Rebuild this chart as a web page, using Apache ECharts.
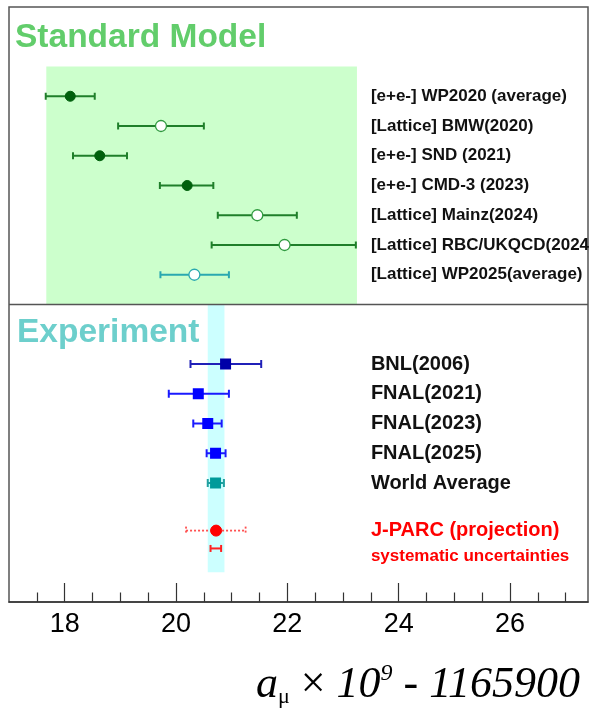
<!DOCTYPE html>
<html>
<head>
<meta charset="utf-8">
<script src="https://cdn.jsdelivr.net/npm/echarts@6/dist/echarts.min.js"></script>
<style>
html, body { margin: 0; padding: 0; background: #fff; }
#main { width: 593px; height: 709px; }
</style>
</head>
<body>
<div id="main"></div>
<script>
// Standard Model predictions (a_mu x 1e9 - 1165900)
const smLabels = ['[e+e-] WP2020 (average)', '[Lattice] BMW(2020)', '[e+e-] SND (2021)',
  '[e+e-] CMD-3 (2023)', '[Lattice] Mainz(2024)', '[Lattice] RBC/UKQCD(2024', '[Lattice] WP2025(average)'];
const smRows = [3, 4, 5, 6, 7, 8, 9];
const smCentral = [18.10, 19.73, 18.63, 20.20, 21.46, 21.95, 20.33];
const smLow = [17.66, 18.96, 18.15, 19.71, 20.75, 20.64, 19.72];
const smHigh = [18.54, 20.50, 19.12, 20.67, 22.17, 23.23, 20.95];

// measurements
const expLabels = ['BNL(2006)', 'FNAL(2021)', 'FNAL(2023)', 'FNAL(2025)', 'World Average'];
const expRows = [12, 13, 14, 15, 16];
const expCentral = [20.89, 20.40, 20.57, 20.71, 20.71];
const expLow = [20.26, 19.87, 20.31, 20.55, 20.57];
const expHigh = [21.53, 20.95, 20.82, 20.89, 20.86];

// J-PARC projection
const jparcLabels = ['J-PARC (projection)', 'systematic uncertainties'];
const jparcLabelRows = [17.6, 18.45];
const jparcRows = [17.6, 18.2];
const jparcCentral = [20.72, 20.72];
const jparcLow = [20.18, 20.62];
const jparcHigh = [21.25, 20.81];

// shaded bands: [x from, x to, row from, row to]
const smBand = [17.67, 23.25, 2, 10];
const expBand = [20.57, 20.87, 10, 19];
const dividerRow = 10;

const xMajorTicks = [18, 20, 22, 24, 26];
const xMinorTicks = [17.5, 18.5, 19, 19.5, 20.5, 21, 21.5, 22.5, 23, 23.5, 24.5, 25, 25.5, 26.5, 27];

const labelX = 23.5;
const FONT = '"Liberation Sans", Arial, Helvetica, sans-serif';
const SERIF = '"Liberation Serif", "Times New Roman", serif';

// marker style per SM row
const smMarker = ['dot', 'ring', 'dot', 'dot', 'ring', 'ring', 'teal'];
const smStyles = {
  dot: { bar: '#1f7f2a', width: 2, cap: 3.5, marker: 'circle', r: 5, fill: '#00600c', stroke: '#00600c' },
  ring: { bar: '#1f7f2a', width: 2, cap: 3.5, marker: 'circle', r: 5.5, fill: '#fff', stroke: '#2f9a3f', lw: 1.3 },
  teal: { bar: '#2aa8b0', width: 2, cap: 3.5, marker: 'circle', r: 5.5, fill: '#fff', stroke: '#2aa8b0', lw: 1.3 }
};
const expStyles = [
  { bar: '#2020b8', width: 2, cap: 4, marker: 'rect', s: 11, fill: '#0000a8' },
  { bar: '#1a1aff', width: 2, cap: 4, marker: 'rect', s: 11, fill: '#0000ff' },
  { bar: '#1a1aff', width: 2, cap: 4, marker: 'rect', s: 11, fill: '#0000ff' },
  { bar: '#1a1aff', width: 2, cap: 4, marker: 'rect', s: 11, fill: '#0000ff' },
  { bar: '#20a0a0', width: 2, cap: 4, marker: 'rect', s: 11, fill: '#009a9a' }
];
const jparcStyles = [
  { bar: '#ff5050', width: 1.8, cap: 4, dash: [2, 2], marker: 'circle', r: 5.5, fill: '#ff0000', stroke: '#ff0000' },
  { bar: '#ff2020', width: 2, cap: 3.5 }
];

function errorBar(c, lo, hi, row, st) {
  return {
    type: 'custom',
    z: 5,
    data: [[c, lo, hi, row]],
    renderItem: function (params, api) {
      const r = api.value(3);
      const a = api.coord([api.value(1), r]);
      const b = api.coord([api.value(2), r]);
      const y = a[1];
      const ls = { stroke: st.bar, lineWidth: st.width, lineDash: st.dash || null };
      const kids = [
        { type: 'line', shape: { x1: a[0], y1: y, x2: b[0], y2: y }, style: ls },
        { type: 'line', shape: { x1: a[0], y1: y - st.cap, x2: a[0], y2: y + st.cap }, style: ls },
        { type: 'line', shape: { x1: b[0], y1: y - st.cap, x2: b[0], y2: y + st.cap }, style: ls }
      ];
      const p = api.coord([api.value(0), r]);
      if (st.marker === 'circle') {
        kids.push({ type: 'circle', shape: { cx: p[0], cy: p[1], r: st.r },
          style: { fill: st.fill, stroke: st.stroke, lineWidth: st.lw || 1 } });
      } else if (st.marker === 'rect') {
        kids.push({ type: 'rect', shape: { x: p[0] - st.s / 2, y: p[1] - st.s / 2, width: st.s, height: st.s },
          style: { fill: st.fill } });
      }
      return { type: 'group', children: kids };
    }
  };
}

function labels(names, rows, font, color) {
  return {
    type: 'custom',
    z: 6,
    data: rows.map(r => [labelX, r]),
    renderItem: function (params, api) {
      const p = api.coord([api.value(0), api.value(1)]);
      return { type: 'text', x: p[0], y: p[1],
        style: { text: names[params.dataIndex], font: font, fill: color, align: 'left', verticalAlign: 'middle' } };
    }
  };
}

function band(b, color) {
  return {
    type: 'custom',
    z: 1,
    data: [b],
    renderItem: function (params, api) {
      const p0 = api.coord([api.value(0), api.value(2)]);
      const p1 = api.coord([api.value(1), api.value(3)]);
      return { type: 'rect', shape: { x: p0[0], y: p0[1], width: p1[0] - p0[0], height: p1[1] - p0[1] },
        style: { fill: color } };
    }
  };
}

const series = [];
series.push(band(smBand, '#ccffcc'));
series.push(band(expBand, '#ccffff'));
series.push({
  type: 'custom',
  z: 2,
  data: [[dividerRow]],
  renderItem: function (params, api) {
    const cs = params.coordSys;
    const y = api.coord([17, api.value(0)])[1];
    return { type: 'line', shape: { x1: cs.x, y1: y, x2: cs.x + cs.width, y2: y },
      style: { stroke: '#555', lineWidth: 1.5 } };
  }
});
smCentral.forEach((c, i) => series.push(errorBar(c, smLow[i], smHigh[i], smRows[i], smStyles[smMarker[i]])));
expCentral.forEach((c, i) => series.push(errorBar(c, expLow[i], expHigh[i], expRows[i], expStyles[i])));
jparcCentral.forEach((c, i) => series.push(errorBar(c, jparcLow[i], jparcHigh[i], jparcRows[i], jparcStyles[i])));
series.push(labels(smLabels, smRows, 'bold 17px ' + FONT, '#111'));
series.push(labels(expLabels, expRows, 'bold 20px ' + FONT, '#111'));
series.push(labels(jparcLabels.slice(0, 1), jparcLabelRows.slice(0, 1), 'bold 20px ' + FONT, '#ff0000'));
series.push(labels(jparcLabels.slice(1), jparcLabelRows.slice(1), 'bold 17px ' + FONT, '#ff0000'));

const rt = { fontFamily: SERIF, fontWeight: 'normal', color: '#000' };
const gridBox = { left: 9, right: 5, top: 7, bottom: 107 };
const myChart = echarts.init(document.getElementById('main'));
const option = {
  animation: false,
  backgroundColor: '#fff',
  grid: [
    Object.assign({ show: true, borderColor: '#555', borderWidth: 1.5 }, gridBox),
    Object.assign({ show: false }, gridBox)   // second grid only carries the minor ticks
  ],
  title: {
    right: 13,
    top: 662,
    padding: 0,
    text: '{i|a}{sub|μ}{n| × }{i|10}{sup|9}{n| - }{i|1165900}',
    textStyle: {
      fontWeight: 'normal',
      rich: {
        i: Object.assign({ fontStyle: 'italic', fontSize: 44, lineHeight: 46, verticalAlign: 'middle' }, rt),
        n: Object.assign({ fontSize: 44, lineHeight: 46, verticalAlign: 'middle' }, rt),
        sub: Object.assign({ fontSize: 22, lineHeight: 30, verticalAlign: 'bottom' }, rt),
        sup: Object.assign({ fontStyle: 'italic', fontSize: 24, lineHeight: 32, verticalAlign: 'top' }, rt)
      }
    }
  },
  graphic: [
    { type: 'text', left: 15, top: 21, style: { text: 'Standard Model', font: 'bold 33.5px ' + FONT, fill: '#62cd6b' } },
    { type: 'text', left: 17, top: 316, style: { text: 'Experiment', font: 'bold 33.5px ' + FONT, fill: '#6dcfcc' } }
  ],
  xAxis: [
    {
      gridIndex: 0, type: 'value', min: 17, max: 27.4, position: 'bottom',
      splitLine: { show: false },
      axisLine: { onZero: false, lineStyle: { color: '#333', width: 1.5 } },
      axisTick: { inside: true, length: 19, customValues: xMajorTicks, lineStyle: { color: '#333', width: 1.2 } },
      axisLabel: { customValues: xMajorTicks, margin: 9, fontSize: 27, color: '#000', fontFamily: FONT }
    },
    {
      gridIndex: 1, type: 'value', min: 17, max: 27.4, position: 'bottom',
      splitLine: { show: false },
      axisLine: { show: false, onZero: false },
      axisTick: { inside: true, length: 9.5, customValues: xMinorTicks, lineStyle: { color: '#333', width: 1.2 } },
      axisLabel: { show: false }
    }
  ],
  yAxis: [
    { gridIndex: 0, type: 'value', min: 0, max: 20, inverse: true, show: false, splitLine: { show: false } },
    { gridIndex: 1, type: 'value', min: 0, max: 20, inverse: true, show: false, splitLine: { show: false } }
  ],
  series: series
};
myChart.setOption(option);
</script>
</body>
</html>
